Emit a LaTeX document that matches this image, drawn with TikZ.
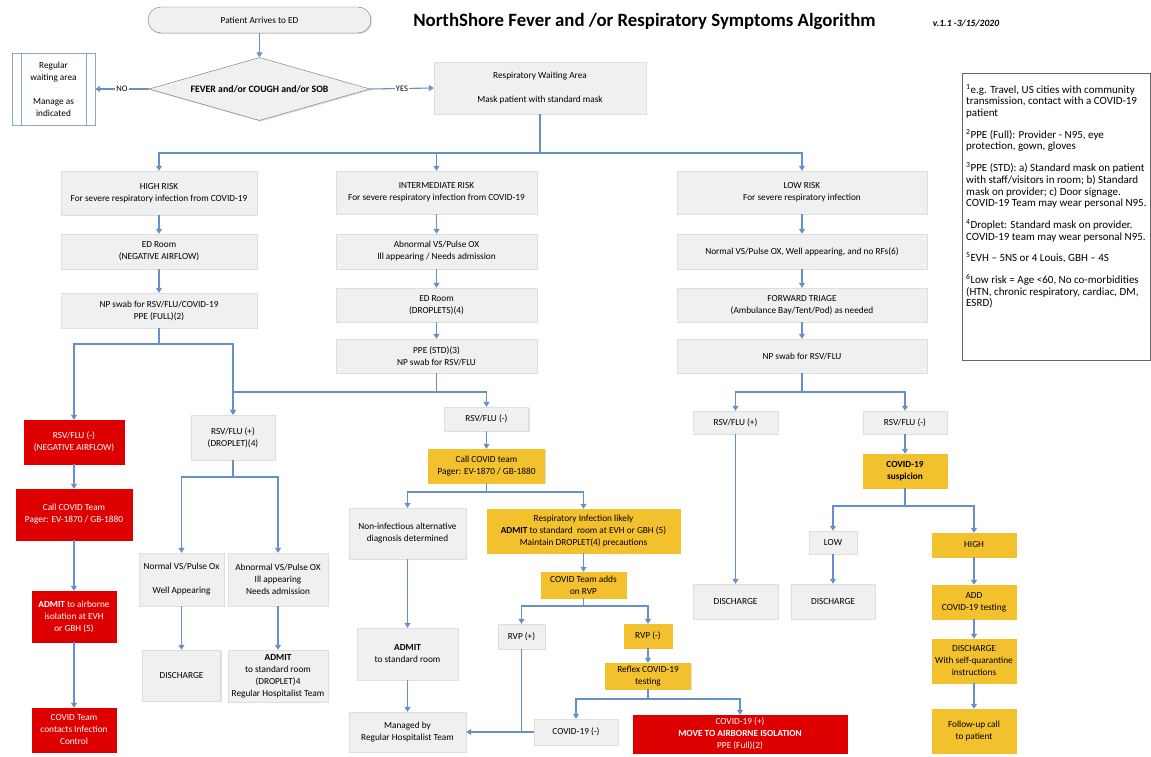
\documentclass[tikz,border=0pt]{standalone}
\usepackage{fontspec}
\setmainfont{Carlito}
\usetikzlibrary{arrows.meta,shapes.geometric,shadows}
\definecolor{flowblue}{RGB}{104,144,200}
\definecolor{boxgray}{RGB}{240,240,240}
\definecolor{alertred}{RGB}{222,0,0}
\definecolor{gold}{RGB}{243,193,45}
\begin{document}
\begin{tikzpicture}[x=1pt,y=-1pt,
  box/.style={draw=black!13, fill=boxgray, align=center, inner sep=1pt,
    font=\fontsize{9.3}{12}\selectfont,
    drop shadow={opacity=0.25,shadow xshift=1.2pt,shadow yshift=-1.2pt}},
  redbox/.style={box, draw=alertred, fill=alertred, text=white},
  ylwbox/.style={box, draw=gold, fill=gold},
  wh/.style 2 args={minimum width=#1pt, minimum height=#2pt},
  ln/.style={draw=flowblue, line width=1.1pt},
  arr/.style={ln, -{Triangle[width=6pt,length=5pt]}},
  lbl/.style={fill=white, inner sep=1pt, font=\fontsize{8.5}{10}\selectfont}]
\useasboundingbox[fill=white] (0,0) rectangle (1151,757);
\node[font=\bfseries\fontsize{18.8}{20}\selectfont] (title) at (644.5,21) {NorthShore Fever and /or Respiratory Symptoms Algorithm};
\node[font=\bfseries\itshape\fontsize{9.6}{11}\selectfont] (ver) at (966,23) {v.1.1 -3/15/2020};
\node[box, draw=black!55, rounded corners=13pt, wh={223}{26}] (arrive) at (259.5,20) {Patient Arrives to ED};
\node[box, draw=black!55, shape=diamond, aspect=3.5, inner sep=0pt, wh={221}{63}, font=\bfseries\fontsize{9.8}{12}\selectfont] (fever) at (259.5,89) {FEVER and/or COUGH and/or SOB};
\node[box, draw=flowblue!80, fill=white, wh={83}{72}] (wait) at (53.5,89) {Regular\\waiting area\\[12pt]Manage as\\indicated};
\draw[draw=flowblue!80] ([xshift=9pt]wait.north west) -- ([xshift=9pt]wait.south west);
\draw[draw=flowblue!80] ([xshift=-9pt]wait.north east) -- ([xshift=-9pt]wait.south east);
\node[box, wh={212}{52}] (resp) at (540,88) {Respiratory Waiting Area\\[12pt]Mask patient with standard mask};
\draw[arr](arrive) -- (fever);
\draw[arr](fever.west) -- node[lbl]{NO} (wait.east);
\draw[arr](fever.east) -- node[lbl]{YES} (resp.west);
\node[box, wh={196}{44}] (high) at (159,193) {HIGH RISK\\For severe respiratory infection from COVID-19};
\node[box, wh={196}{35}] (edroom1) at (159,251.5) {ED Room\\(NEGATIVE AIRFLOW)};
\node[box, wh={196}{35}] (npswab1) at (159,310.5) {NP swab for RSV/FLU/COVID-19\\PPE (FULL)(2)};
\node[box, wh={201}{43}] (inter) at (436.5,192.5) {INTERMEDIATE RISK\\For severe respiratory infection from COVID-19};
\node[box, wh={201}{35}] (abn1) at (436.5,251.5) {Abnormal VS/Pulse OX\\Ill appearing / Needs admission};
\node[box, wh={201}{34}] (edroom2) at (436.5,305) {ED Room\\(DROPLETS)(4)};
\node[box, wh={201}{34}] (ppe) at (436.5,356) {PPE (STD)(3)\\NP swab for RSV/FLU};
\node[box, wh={250}{43}] (low) at (802,192.5) {LOW RISK\\For severe respiratory infection};
\node[box, wh={250}{35}] (normal1) at (802,251.5) {Normal VS/Pulse OX, Well appearing, and no RFs(6)};
\node[box, wh={250}{34}] (triage) at (802,305) {FORWARD TRIAGE\\(Ambulance Bay/Tent/Pod) as needed};
\node[box, wh={250}{34}] (npswab3) at (802,356) {NP swab for RSV/FLU};
\coordinate (j0) at (540,153);
\draw[ln](resp) -- (j0);
\draw[arr](j0) -| (high);
\draw[arr](j0) -| (inter);
\draw[arr](j0) -| (low);
\draw[arr](high) -- (edroom1);
\draw[arr](edroom1) -- (npswab1);
\draw[arr](inter) -- (abn1);
\draw[arr](abn1) -- (edroom2);
\draw[arr](edroom2) -- (ppe);
\draw[arr](low) -- (normal1);
\draw[arr](normal1) -- (triage);
\draw[arr](triage) -- (npswab3);
\node[redbox, wh={100}{44}] (fluneg1) at (74,442) {RSV/FLU (-)\\(NEGATIVE AIRFLOW)};
\node[redbox, wh={116}{51}] (callcovid1) at (74,514.5) {Call COVID Team\\Pager: EV-1870 / GB-1880};
\node[redbox, wh={84}{51}] (admit1) at (74,616.5) {\textbf{ADMIT} to airborne\\isolation at EVH\\or GBH (5)};
\node[redbox, wh={84}{44}] (contacts) at (74,730) {COVID Team\\contacts Infection\\Control};
\node[box, wh={84}{45}] (flupos1) at (233,437.5) {RSV/FLU (+)\\(DROPLET)(4)};
\node[box, wh={85}{53}] (normvs) at (181.5,579.5) {Normal VS/Pulse Ox\\[12pt]Well Appearing};
\node[box, wh={100}{53}] (abnvs) at (278,579.5) {Abnormal VS/Pulse OX\\Ill appearing\\Needs admission};
\node[box, wh={78}{51}] (discharge1) at (181.5,675.5) {DISCHARGE};
\node[box, wh={100}{52}] (admit2) at (278,676) {\textbf{ADMIT}\\to standard room\\(DROPLET)4\\Regular Hospitalist Team};
\coordinate (j1) at (159,344);
\coordinate (j2) at (436.5,392);
\coordinate (j3) at (233,477);
\draw[ln](npswab1) -- (j1);
\draw[arr](j1) -| (fluneg1);
\draw[arr](j1) -| (flupos1);
\draw[ln](ppe) -- (j2);
\draw[arr](fluneg1) -- (callcovid1);
\draw[arr](callcovid1) -- (admit1);
\draw[arr](admit1) -- (contacts);
\draw[ln](flupos1) -- (j3);
\draw[arr](j3) -| (normvs);
\draw[arr](j3) -| (abnvs);
\draw[arr](normvs) -- (discharge1);
\draw[arr](abnvs) -- (admit2);
\node[box, wh={84}{24}] (fluneg2) at (486.5,419) {RSV/FLU (-)};
\node[ylwbox, wh={116}{34}] (callcovid2) at (486.5,466) {Call COVID team\\Pager: EV-1870 / GB-1880};
\node[box, wh={117}{51}] (noninf) at (407.5,533.5) {Non-infectious alternative\\diagnosis determined};
\node[ylwbox, wh={193}{44}] (resplikely) at (583.5,531) {Respiratory Infection likely\\\textbf{ADMIT} to standard\ \ room at EVH or GBH (5)\\Maintain DROPLET(4) precautions};
\node[ylwbox, wh={85}{26}] (addsrvp) at (583.5,585) {COVID Team adds\\on RVP};
\node[box, wh={47}{25}] (rvppos) at (521.5,636.5) {RVP (+)};
\node[ylwbox, wh={48}{24}] (rvpneg) at (648,636) {RVP (-)};
\node[ylwbox, wh={85}{26}] (reflex) at (648,676) {Reflex COVID-19\\testing};
\node[box, wh={84}{26}] (covneg) at (576,732) {COVID-19 (-)};
\node[redbox, wh={214}{38}] (covpos) at (740,734) {COVID-19 (+)\\\textbf{MOVE TO AIRBORNE ISOLATION}\\PPE (Full)(2)};
\node[box, wh={101}{52}] (admit3) at (407.5,654) {\textbf{ADMIT}\\to standard room};
\node[box, wh={117}{40}] (managed) at (407.5,732) {Managed by\\Regular Hospitalist Team};
\coordinate (j4) at (486.5,492);
\coordinate (j5) at (583.5,606);
\coordinate (j6) at (648,699);
\coordinate (j7) at (521.5,732);
\draw[arr](j2) -| (flupos1);
\draw[arr](j2) -| (fluneg2);
\draw[arr](fluneg2) -- (callcovid2);
\draw[ln](callcovid2) -- (j4);
\draw[arr](j4) -| (noninf);
\draw[arr](j4) -| (resplikely);
\draw[arr](noninf) -- (admit3);
\draw[arr](admit3) -- (managed);
\draw[arr](resplikely) -- (addsrvp);
\draw[ln](addsrvp) -- (j5);
\draw[arr](j5) -| (rvppos);
\draw[arr](j5) -| (rvpneg);
\draw[arr](rvpneg) -- (reflex);
\draw[ln](reflex) -- (j6);
\draw[arr](j6) -| (covneg);
\draw[arr](j6) -| (covpos);
\draw[ln](rvppos) -- (j7);
\draw[arr](covneg) -- (managed);
\node[box, wh={85}{23}] (flupos3) at (735.5,422.5) {RSV/FLU (+)};
\node[box, wh={84}{23}] (fluneg3) at (905,422.5) {RSV/FLU (-)};
\node[ylwbox, wh={84}{34}, font=\bfseries\fontsize{9.3}{12}\selectfont] (suspicion) at (905,471) {COVID-19\\suspicion};
\node[box, wh={48}{23}] (lowbox) at (833,542.5) {LOW};
\node[ylwbox, wh={84}{24}] (highbox) at (974,545) {HIGH};
\node[box, wh={85}{35}] (discharge3) at (735.5,601.5) {DISCHARGE};
\node[box, wh={84}{35}] (discharge4) at (833,601.5) {DISCHARGE};
\node[ylwbox, wh={84}{34}] (addtest) at (974,602) {ADD\\COVID-19 testing};
\node[ylwbox, wh={84}{44}] (dischq) at (974,661) {DISCHARGE\\With self-quarantine\\instructions};
\node[ylwbox, wh={84}{44}] (followup) at (974,731) {Follow-up call\\to patient};
\coordinate (j8) at (802,392);
\coordinate (j9) at (905,506);
\draw[ln](npswab3) -- (j8);
\draw[arr](j8) -| (flupos3);
\draw[arr](j8) -| (fluneg3);
\draw[arr](fluneg3) -- (suspicion);
\draw[arr](flupos3) -- (discharge3);
\draw[ln](suspicion) -- (j9);
\draw[arr](j9) -| (lowbox);
\draw[arr](j9) -| (highbox);
\draw[arr](lowbox) -- (discharge4);
\draw[arr](highbox) -- (addtest);
\draw[arr](addtest) -- (dischq);
\draw[arr](dischq) -- (followup);
\node[draw=black!60, anchor=north west, inner sep=0pt] (notes) at (962,73) {%
  \begin{minipage}[t][287pt][t]{188pt}
  \fontsize{11}{11.7}\selectfont\raggedright\parskip=10pt
  \leftskip=4pt\vspace{11pt}
  \textsuperscript{1}e.g. Travel, US cities with community\\transmission, contact with a COVID-19\\patient\par
  \textsuperscript{2}PPE (Full): Provider - N95, eye\\protection, gown, gloves\par
  \textsuperscript{3}PPE (STD): a) Standard mask on patient\\with staff/visitors in room; b) Standard\\mask on provider; c) Door signage.\\COVID-19 Team may wear personal N95.\par
  \textsuperscript{4}Droplet: Standard mask on provider.\\COVID-19 team may wear personal N95.\par
  \textsuperscript{5}EVH -- 5NS or 4 Louis, GBH -- 4S\par
  \textsuperscript{6}Low risk = Age <60, No co-morbidities\\(HTN, chronic respiratory, cardiac, DM,\\ESRD)\par
  \end{minipage}};
\end{tikzpicture}
\end{document}
